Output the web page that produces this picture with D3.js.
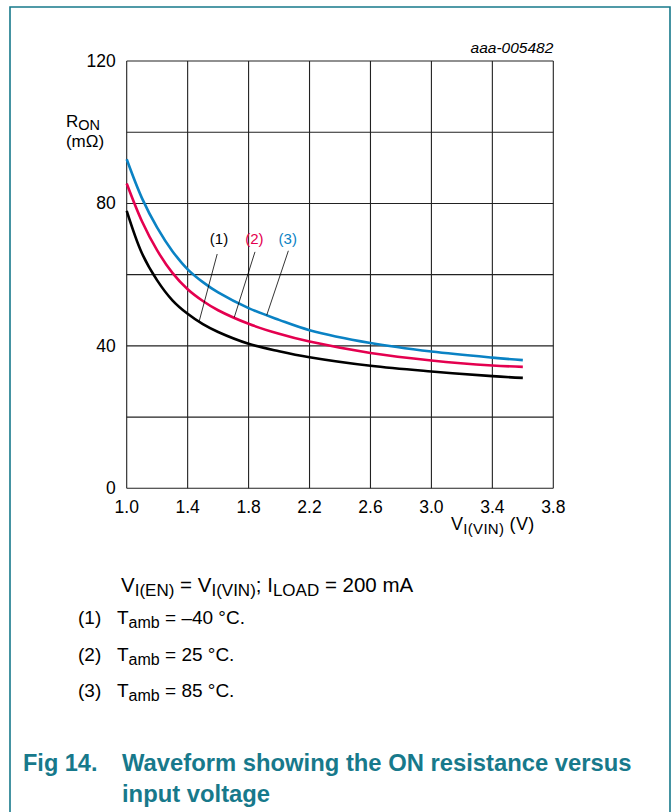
<!DOCTYPE html>
<html>
<head>
<meta charset="utf-8">
<script src="https://cdn.jsdelivr.net/npm/d3@7"></script>
<style>
  html, body { margin: 0; padding: 0; background: #fff; }
  svg { display: block; font-family: "Liberation Sans", Arial, sans-serif; }
</style>
</head>
<body>
<svg id="chart" width="671" height="812"></svg>
<script>
// ---- data ----
const vin      = [1.0, 1.1, 1.2, 1.3, 1.4, 1.5, 1.6, 1.8, 2.0, 2.2, 2.6, 3.0, 3.4, 3.6];
const ronCold  = [77.9, 66.0, 58.4, 52.8, 49.0, 46.1, 43.9, 40.6, 38.5, 36.8, 34.4, 32.8, 31.5, 31.0]; // -40 C
const ronRoom  = [85.6, 75.0, 66.8, 60.5, 55.9, 52.6, 50.0, 46.2, 43.4, 41.2, 38.0, 35.9, 34.5, 34.1]; // 25 C
const ronHot   = [92.4, 81.5, 73.2, 66.6, 61.5, 57.9, 55.0, 50.6, 47.3, 44.4, 40.8, 38.4, 36.7, 36.0]; // 85 C

const xTicks = [1.0, 1.4, 1.8, 2.2, 2.6, 3.0, 3.4, 3.8];
const yGrid  = [0, 20, 40, 60, 80, 100, 120];
const yTickLabels = [0, 40, 80, 120];

const seriesNames  = ['(1)', '(2)', '(3)'];
const seriesColors = ['#000000', '#e4004f', '#0a82c4'];
// label spot and leader line ends, in data units (V, mOhm)
const labelPos   = [[1.606, 70.1], [1.838, 70.1], [2.057, 70.1]];
const leaderFrom = [[1.594, 65.8], [1.842, 66.4], [2.061, 66.7]];
const leaderTo   = [[1.475, 46.8], [1.706, 48.0], [1.919, 48.6]];

const legendRows = ['\u201340 \u00b0C.', '25 \u00b0C.', '85 \u00b0C.'];
const captionLines = ['Waveform showing the ON resistance versus', 'input voltage'];

// ---- layout ----
const svg = d3.select('#chart');
const teal = '#17798b';

const x = d3.scaleLinear().domain([1.0, 3.8]).range([126.7, 553.3]);
const y = d3.scaleLinear().domain([0, 120]).range([488.3, 61]);

// frame around the figure
svg.append('path')
  .attr('d', 'M10,812 V7 H670 V812')
  .attr('fill', 'none')
  .attr('stroke', teal)
  .attr('stroke-width', 1.6);

const g = svg.append('g');

// grid
g.selectAll('.vgrid')
  .data(xTicks)
  .enter()
  .append('line')
  .attr('class', 'vgrid')
  .attr('x1', d => x(d))
  .attr('x2', d => x(d))
  .attr('y1', y(0))
  .attr('y2', y(120))
  .attr('stroke', '#222')
  .attr('stroke-width', 1.1);

g.selectAll('.hgrid')
  .data(yGrid)
  .enter()
  .append('line')
  .attr('class', 'hgrid')
  .attr('x1', x(1.0))
  .attr('x2', x(3.8))
  .attr('y1', d => y(d))
  .attr('y2', d => y(d))
  .attr('stroke', '#222')
  .attr('stroke-width', 1.1);

// tick labels
g.selectAll('.xlab')
  .data(xTicks)
  .enter()
  .append('text')
  .attr('class', 'xlab')
  .attr('x', d => x(d))
  .attr('y', y(0) + 25)
  .attr('text-anchor', 'middle')
  .attr('font-size', 17.5)
  .text(d => d3.format('.1f')(d));

g.selectAll('.ylab')
  .data(yTickLabels)
  .enter()
  .append('text')
  .attr('class', 'ylab')
  .attr('x', x(1.0) - 11)
  .attr('y', d => y(d) + 6)
  .attr('text-anchor', 'end')
  .attr('font-size', 17.5)
  .text(d => d);

// axis titles
const yt = g.append('text')
  .attr('x', 66)
  .attr('y', 126.5)
  .attr('font-size', 17);
yt.append('tspan').text('R');
yt.append('tspan').attr('dy', 3.5).attr('font-size', 14.5).text('ON');

g.append('text')
  .attr('x', 85)
  .attr('y', 147)
  .attr('text-anchor', 'middle')
  .attr('font-size', 17)
  .text('(m\u03a9)');

const xt = g.append('text')
  .attr('x', 451)
  .attr('y', 530)
  .attr('font-size', 18)
  .attr('letter-spacing', 0.3);
xt.append('tspan').text('V');
xt.append('tspan').attr('dy', 4).attr('font-size', 15).text('I(VIN)');
xt.append('tspan').attr('dy', -4).text(' (V)');

g.append('text')
  .attr('x', x(3.8))
  .attr('y', 53)
  .attr('text-anchor', 'end')
  .attr('font-size', 15.5)
  .attr('font-style', 'italic')
  .text('aaa-005482');

// curves
const seriesValues = [ronCold, ronRoom, ronHot];
const line = d3.line()
  .x(d => x(d[0]))
  .y(d => y(d[1]))
  .curve(d3.curveCatmullRom.alpha(0.5));

seriesValues.forEach((vals, i) => {
  g.append('path')
    .datum(vin.map((v, k) => [v, vals[k]]))
    .attr('fill', 'none')
    .attr('stroke', seriesColors[i])
    .attr('stroke-width', 2.6)
    .attr('d', line);
});

// curve labels with leader lines
seriesNames.forEach((name, i) => {
  g.append('line')
    .attr('x1', x(leaderFrom[i][0]))
    .attr('y1', y(leaderFrom[i][1]))
    .attr('x2', x(leaderTo[i][0]))
    .attr('y2', y(leaderTo[i][1]))
    .attr('stroke', '#000')
    .attr('stroke-width', 0.8);
  g.append('text')
    .attr('x', x(labelPos[i][0]))
    .attr('y', y(labelPos[i][1]) + 5)
    .attr('text-anchor', 'middle')
    .attr('font-size', 15)
    .attr('fill', seriesColors[i])
    .text(name);
});

// conditions line
const cond = svg.append('text')
  .attr('x', 121)
  .attr('y', 592)
  .attr('font-size', 20.5);
cond.append('tspan').text('V');
cond.append('tspan').attr('dy', 4).attr('font-size', 17).text('I(EN)');
cond.append('tspan').attr('dy', -4).text(' = V');
cond.append('tspan').attr('dy', 4).attr('font-size', 17).text('I(VIN)');
cond.append('tspan').attr('dy', -4).text('; I');
cond.append('tspan').attr('dy', 4).attr('font-size', 17).text('LOAD');
cond.append('tspan').attr('dy', -4).text(' = 200 mA');

// legend rows
legendRows.forEach((txt, i) => {
  const yy = 624 + i * 36.5;
  svg.append('text')
    .attr('x', 78)
    .attr('y', yy)
    .attr('font-size', 19)
    .text(seriesNames[i]);
  const t = svg.append('text')
    .attr('x', 117)
    .attr('y', yy)
    .attr('font-size', 19);
  t.append('tspan').text('T');
  t.append('tspan').attr('dy', 4).attr('font-size', 16).text('amb');
  t.append('tspan').attr('dy', -4).text(' = ' + txt);
});

// caption
svg.append('text')
  .attr('x', 23)
  .attr('y', 771)
  .attr('font-size', 23.5)
  .attr('font-weight', 'bold')
  .attr('fill', teal)
  .text('Fig 14.');

captionLines.forEach((txt, i) => {
  svg.append('text')
    .attr('x', 122)
    .attr('y', 771 + i * 31)
    .attr('font-size', 23.8)
    .attr('font-weight', 'bold')
    .attr('fill', teal)
    .text(txt);
});
</script>
</body>
</html>
